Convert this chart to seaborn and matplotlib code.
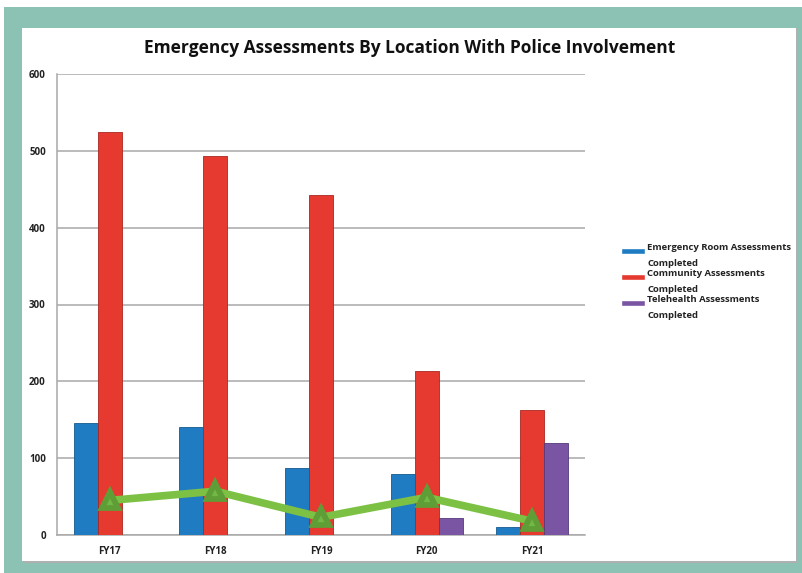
import pandas as pd
import matplotlib.pyplot as plt
import seaborn as sns
from matplotlib.patches import Rectangle
from matplotlib.legend_handler import HandlerPatch

# Data
years = ['FY17', 'FY18', 'FY19', 'FY20', 'FY21']
er_assessments = [146, 140, 87, 79, 10]
community_assessments = [524, 493, 443, 213, 163]
telehealth_assessments = [0, 0, 0, 22, 120]
police_involvement = [45, 57, 23, 49, 18]

series_names = ['Emergency Room Assessments\nCompleted',
                'Community Assessments\nCompleted',
                'Telehealth Assessments\nCompleted']

data = pd.DataFrame({
    'Year': years * 3,
    'Count': er_assessments + community_assessments + telehealth_assessments,
    'Series': [series_names[0]] * 5 + [series_names[1]] * 5 + [series_names[2]] * 5,
})
police = pd.DataFrame({'Year': years, 'Count': police_involvement})

sns.set_style('white')
plt.rcParams['font.family'] = ['Open Sans', 'DejaVu Sans']

fig = plt.figure(figsize=(8.02, 5.73), dpi=100)
W, H = 802, 573

# teal frame and white panel
fig.patches.append(Rectangle((4 / W, 0), 1 - 4 / W, 1 - 7 / H, transform=fig.transFigure,
                             facecolor='#8cc2b4', edgecolor='none', zorder=-3))
fig.patches.append(Rectangle((24 / W, 10 / H), 774 / W, 535 / H, transform=fig.transFigure,
                             facecolor='#b0b0b0', edgecolor='none', zorder=-2))
fig.patches.append(Rectangle((22 / W, 12 / H), 774 / W, 533 / H, transform=fig.transFigure,
                             facecolor='white', edgecolor='none', zorder=-1))

ax = fig.add_axes([57 / W, 38 / H, 528 / W, 461 / H])
ax.set_facecolor('none')

palette = ['#1f7cc2', '#e63a30', '#7a55a3']
edges = ['#155a8e', '#a82720', '#56397a']
sns.barplot(data=data, x='Year', y='Count', hue='Series', palette=palette,
            width=0.68, saturation=1, ax=ax, zorder=3)
for bars, ec in zip(ax.containers, edges):
    for b in bars:
        b.set_edgecolor(ec)
        b.set_linewidth(0.6)

sns.pointplot(data=police, x='Year', y='Count', color='#7cc143', markers='^',
              markersize=12, linewidth=5.5, ax=ax, zorder=5)
for ln in ax.lines:
    ln.set_markerfacecolor('#72b844')
    ln.set_markeredgecolor('#5f9e36')

ax.set_ylim(0, 600)
ax.set_yticks(range(0, 601, 100))
ax.set_xlim(-0.5, 4.5)
ax.yaxis.grid(True, color='#a8a8a8', linewidth=1.1, zorder=0)
ax.set_axisbelow(True)
for s in ['top', 'right']:
    ax.spines[s].set_visible(False)
for s in ['left', 'bottom']:
    ax.spines[s].set_color('#a8a8a8')
    ax.spines[s].set_linewidth(1.1)
ax.set_xlabel('')
ax.set_ylabel('')
ax.tick_params(axis='both', length=0, labelsize=7, pad=8)
for t in ax.get_xticklabels() + ax.get_yticklabels():
    t.set_fontweight('bold')
    t.set_color('#222222')


# legend swatch sits next to the first line of the wrapped label
def top_swatch(legend, orig_handle, xdescent, ydescent, width, height, fontsize):
    return Rectangle((-xdescent, -ydescent + height - 5), width, 4.5)


handles, labels = ax.get_legend_handles_labels()
leg = ax.legend(handles, labels, loc='upper left', bbox_to_anchor=(1.052, 0.651),
                frameon=False, fontsize=6.8, handlelength=2.5, handleheight=2.7,
                labelspacing=0.1, handletextpad=0.3,
                handler_map={Rectangle: HandlerPatch(patch_func=top_swatch)})
for t in leg.get_texts():
    t.set_fontweight('bold')
    t.set_color('#222222')
    t.set_linespacing(2.0)

fig.text(410 / W, 1 - 48 / H, 'Emergency Assessments By Location With Police Involvement',
         ha='center', va='center', fontsize=12.5, fontweight='bold', color='#111111')

fig.savefig('out.png', dpi=100)
